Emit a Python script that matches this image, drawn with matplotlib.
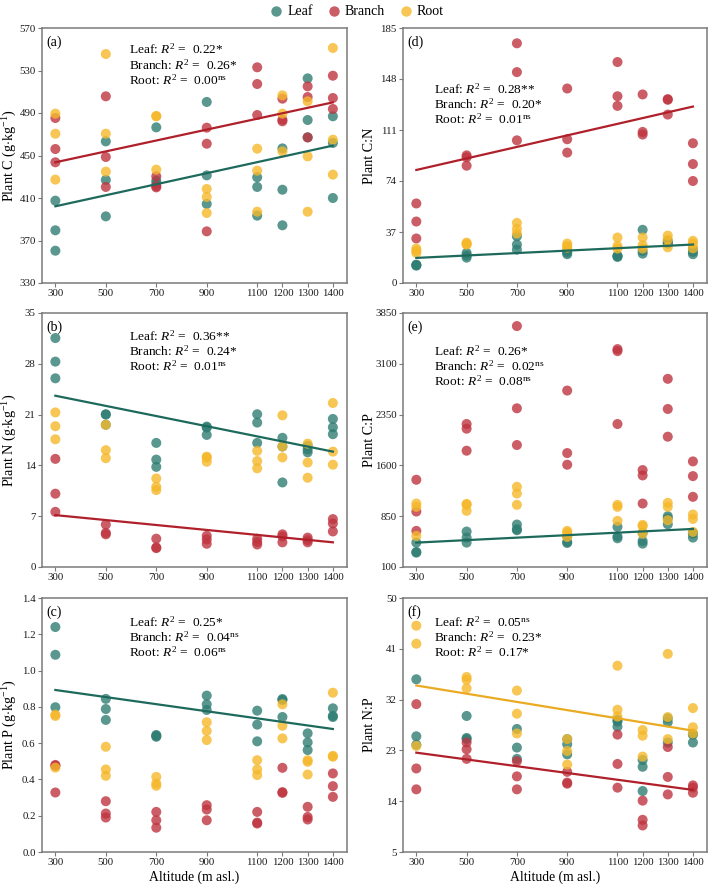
import numpy as np
import matplotlib
matplotlib.use("Agg")
import matplotlib.pyplot as plt
from matplotlib.lines import Line2D

plt.rcParams['font.family'] = ['Liberation Serif', 'DejaVu Serif']
plt.rcParams['mathtext.fontset'] = 'custom'
plt.rcParams['mathtext.rm'] = 'Liberation Serif'
plt.rcParams['mathtext.it'] = 'Liberation Serif:italic'

altitudes = [300, 500, 700, 900, 1100, 1200, 1300, 1400]

# Panel (a) Plant C
C_leaf = [[407.5, 379.6, 360.4], [463.3, 427.0, 392.7], [476.5, 426.3, 423.5], [500.4, 431.3, 404.4],
          [429.5, 420.4, 393.4], [456.7, 417.8, 384.3], [522.6, 483.4, 467.1], [486.9, 461.8, 410.0]]
C_branch = [[485.3, 456.1, 443.6], [505.7, 448.6, 420.4], [430.4, 421.0, 420.0], [476.2, 461.1, 378.6],
            [533.0, 517.3, 488.1], [503.5, 483.7, 482.2], [515.1, 505.0, 467.0], [525.1, 504.1, 493.8]]
C_root = [[489.4, 470.5, 427.3], [545.5, 470.5, 434.8], [487.2, 486.9, 436.7], [418.5, 411.0, 395.9],
          [456.4, 435.7, 397.1], [506.6, 489.4, 453.9], [501.0, 449.2, 397.1], [551.2, 464.9, 432.0]]

# Panel (b) Plant N
N_leaf = [[31.55, 28.3, 26.0], [21.05, 21.0, 19.6], [17.1, 14.8, 13.8], [19.35, 19.2, 18.2],
          [21.05, 19.9, 17.1], [17.8, 16.6, 11.65], [16.7, 16.2, 15.8], [20.4, 19.25, 18.3]]
N_branch = [[14.9, 10.1, 7.6], [5.85, 4.7, 4.5], [3.9, 2.7, 2.6], [4.3, 3.8, 3.2],
            [3.9, 3.45, 3.1], [4.5, 4.2, 3.4], [4.05, 3.7, 3.4], [6.6, 6.0, 4.9]]
N_root = [[21.3, 19.4, 17.6], [19.6, 16.1, 15.0], [12.2, 11.05, 10.6], [15.2, 15.1, 14.5],
          [16.0, 14.6, 13.6], [20.9, 16.6, 15.1], [17.0, 14.4, 12.3], [22.6, 15.9, 14.1]]

# Panel (c) Plant P
P_leaf = [[1.24, 1.087, 0.798], [0.844, 0.788, 0.728], [0.645, 0.64, 0.635], [0.862, 0.814, 0.783],
          [0.779, 0.702, 0.61], [0.843, 0.838, 0.744], [0.654, 0.604, 0.562], [0.792, 0.75, 0.744]]
P_branch = [[0.48, 0.475, 0.328], [0.28, 0.212, 0.19], [0.221, 0.175, 0.134], [0.258, 0.234, 0.175],
            [0.221, 0.162, 0.157], [0.464, 0.33, 0.326], [0.249, 0.193, 0.179], [0.433, 0.363, 0.304]]
P_root = [[0.757, 0.75, 0.465], [0.58, 0.455, 0.42], [0.414, 0.378, 0.365], [0.715, 0.667, 0.617],
          [0.506, 0.455, 0.424], [0.814, 0.696, 0.626], [0.506, 0.497, 0.427], [0.878, 0.53, 0.525]]

# Panel (d) Plant C:N
CN_leaf = [[13.3, 12.6, 13.0], [21.8, 19.9, 18.4], [33.9, 27.9, 24.2], [23.3, 22.1, 20.9],
           [19.9, 19.4, 18.9], [38.6, 23.3, 21.3], [30.6, 29.3, 28.6], [25.0, 22.6, 20.9]]
CN_branch = [[57.7, 44.6, 32.3], [92.6, 91.2, 85.1], [173.9, 153.0, 103.5], [141.1, 104.3, 94.6],
             [160.3, 135.5, 128.5], [136.8, 109.6, 107.7], [133.4, 132.9, 122.2], [101.4, 86.3, 74.0]]
CN_root = [[25.0, 23.3, 21.8], [29.3, 27.9, 28.3], [43.6, 39.3, 35.9], [28.6, 26.9, 25.7],
           [33.0, 26.9, 25.0], [33.0, 27.4, 25.0], [34.4, 31.5, 25.9], [30.6, 28.6, 25.2]]

# Panel (e) Plant C:P
CP_leaf = [[460, 322, 312], [623, 534, 460], [727, 657, 643], [554, 470, 455],
           [692, 554, 524], [603, 485, 445], [850, 815, 731], [608, 593, 534]]
CP_branch = [[1388, 919, 633], [2211, 2142, 1817], [3657, 2443, 1901], [2705, 1782, 1610],
             [3317, 3287, 2211], [1531, 1452, 1037], [2878, 2433, 2024], [1659, 1442, 1136]]
CP_root = [[1037, 988, 559], [1032, 1018, 929], [1284, 1185, 1018], [633, 608, 544],
           [1018, 988, 781], [722, 702, 593], [1047, 988, 791], [875, 810, 618]]

# Panel (f) Plant N:P
NP_leaf = [[35.6, 25.5, 24.0], [29.1, 25.2, 25.0], [26.8, 23.5, 21.5], [25.0, 24.1, 22.3],
           [28.4, 28.1, 27.2], [21.3, 20.1, 15.8], [28.7, 28.0, 24.4], [25.9, 25.8, 24.4]]
NP_branch = [[31.2, 19.8, 16.1], [24.4, 23.2, 21.5], [21.1, 18.4, 16.1], [19.2, 17.3, 17.1],
             [25.8, 20.6, 16.4], [14.1, 10.7, 9.7], [23.6, 18.3, 15.2], [16.8, 16.4, 15.5]]
NP_root = [[45.1, 41.9, 23.8], [36.0, 35.5, 34.0], [33.6, 29.5, 26.0], [25.0, 22.9, 20.5],
           [38.0, 30.2, 29.0], [26.6, 25.6, 21.9], [40.1, 28.9, 25.0], [30.5, 27.1, 26.0]]

# Regression line end values (at 300 and 1400 m)
fit_lines = {
    'a': {'Leaf': [402.2, 459.3], 'Branch': [443.6, 500.0]},
    'b': {'Leaf': [23.6, 15.9], 'Branch': [7.15, 3.4]},
    'c': {'Leaf': [0.893, 0.678]},
    'd': {'Branch': [82.0, 128.0], 'Leaf': [18.2, 27.9]},
    'e': {'Leaf': [460.0, 662.0]},
    'f': {'Root': [34.5, 26.5], 'Branch': [22.6, 16.0]},
}

r2_text = {
    'a': [('Leaf', '0.22*'), ('Branch', '0.26*'), ('Root', '0.00$^{\\rm ns}$')],
    'b': [('Leaf', '0.36**'), ('Branch', '0.24*'), ('Root', '0.01$^{\\rm ns}$')],
    'c': [('Leaf', '0.25*'), ('Branch', '0.04$^{\\rm ns}$'), ('Root', '0.06$^{\\rm ns}$')],
    'd': [('Leaf', '0.28**'), ('Branch', '0.20*'), ('Root', '0.01$^{\\rm ns}$')],
    'e': [('Leaf', '0.26*'), ('Branch', '0.02$^{\\rm ns}$'), ('Root', '0.08$^{\\rm ns}$')],
    'f': [('Leaf', '0.05$^{\\rm ns}$'), ('Branch', '0.23*'), ('Root', '0.17*')],
}

point_colors = {'Leaf': '#2f7d73', 'Branch': '#bf3440', 'Root': '#f5b82a'}
line_colors = {'Leaf': '#1d6a5c', 'Branch': '#b0202a', 'Root': '#eaaa22'}

panels = [
    ('a', 'Plant C (g$\\cdot$kg$^{-1}$)', (C_leaf, C_branch, C_root), (330, 570), np.arange(330, 571, 40)),
    ('b', 'Plant N (g$\\cdot$kg$^{-1}$)', (N_leaf, N_branch, N_root), (0, 35), np.arange(0, 36, 7)),
    ('c', 'Plant P (g$\\cdot$kg$^{-1}$)', (P_leaf, P_branch, P_root), (0, 1.4), np.arange(0, 1.41, 0.2)),
    ('d', 'Plant C:N', (CN_leaf, CN_branch, CN_root), (0, 185), np.arange(0, 186, 37)),
    ('e', 'Plant C:P', (CP_leaf, CP_branch, CP_root), (100, 3850), np.arange(100, 3851, 750)),
    ('f', 'Plant N:P', (NP_leaf, NP_branch, NP_root), (5, 50), np.arange(5, 51, 9)),
]

fig = plt.figure(figsize=(7.09, 8.86), dpi=100)
W, H = 709, 886
col_x = [(42, 347), (403, 707)]
row_y = [(28, 283), (313, 567), (598, 852)]
text_pos = {'a': (0.285, 0.915), 'b': (0.285, 0.91), 'c': (0.285, 0.906),
            'd': (0.102, 0.76), 'e': (0.102, 0.85), 'f': (0.102, 0.906)}
ylabel_px = {0: 19, 1: 376}

organs = ['Leaf', 'Branch', 'Root']
for idx, (key, ylabel, series, ylim, yticks) in enumerate(panels):
    col = idx // 3
    row = idx % 3
    x0, x1 = col_x[col]
    y0, y1 = row_y[row]
    ax = fig.add_axes([x0 / W, 1 - y1 / H, (x1 - x0) / W, (y1 - y0) / H])
    for org, vals in zip(organs, series):
        xs = np.repeat(altitudes, 3)
        ys = np.array(vals).ravel()
        ax.scatter(xs, ys, s=52, color=point_colors[org], alpha=0.8, edgecolors='none', zorder=2)
    for org, ends in fit_lines[key].items():
        ax.plot([altitudes[0], altitudes[-1]], ends, color=line_colors[org], lw=1.6, zorder=3)
    ax.set_xlim(247, 1456)
    ax.set_ylim(*ylim)
    ax.set_xticks(altitudes)
    ax.set_xticklabels([str(a) for a in altitudes])
    ax.set_yticks(yticks)
    if key == 'c':
        ax.set_yticklabels(['%.1f' % t for t in yticks])
    else:
        ax.set_yticklabels(['%d' % round(t) for t in yticks])
    for sp in ax.spines.values():
        sp.set_color('#7a7a7a')
        sp.set_linewidth(1.1)
    ax.tick_params(axis='both', length=3, width=0.8, color='#7a7a7a', labelsize=7.8,
                   labelcolor='#1a1a1a', pad=1.5)
    ax.set_ylabel(ylabel, fontsize=10.2)
    ax.yaxis.set_label_coords((ylabel_px[col] - x0) / (x1 - x0), 0.5)
    if row == 2:
        ax.set_xlabel('Altitude (m asl.)', fontsize=9.8, labelpad=2)
    ax.text(0.015, 0.945, '(%s)' % key, transform=ax.transAxes, fontsize=10, va='center', ha='left')
    tx, ty = text_pos[key]
    for i, (org, val) in enumerate(r2_text[key]):
        ax.text(tx, ty - i * 0.06, '%s: $R^2$ =  %s' % (org, val), transform=ax.transAxes,
                fontsize=9.6, va='center', ha='left')

handles = [Line2D([], [], marker='o', ls='none', markersize=7.5, color=point_colors[o], alpha=0.8,
                  markeredgecolor='none') for o in organs]
fig.legend(handles, organs, loc='upper center', bbox_to_anchor=(0.503, 1.008), ncol=3,
           frameon=False, fontsize=10, handletextpad=0.3, columnspacing=1.0, handlelength=1.0)

fig.savefig('out.png', dpi=100)
